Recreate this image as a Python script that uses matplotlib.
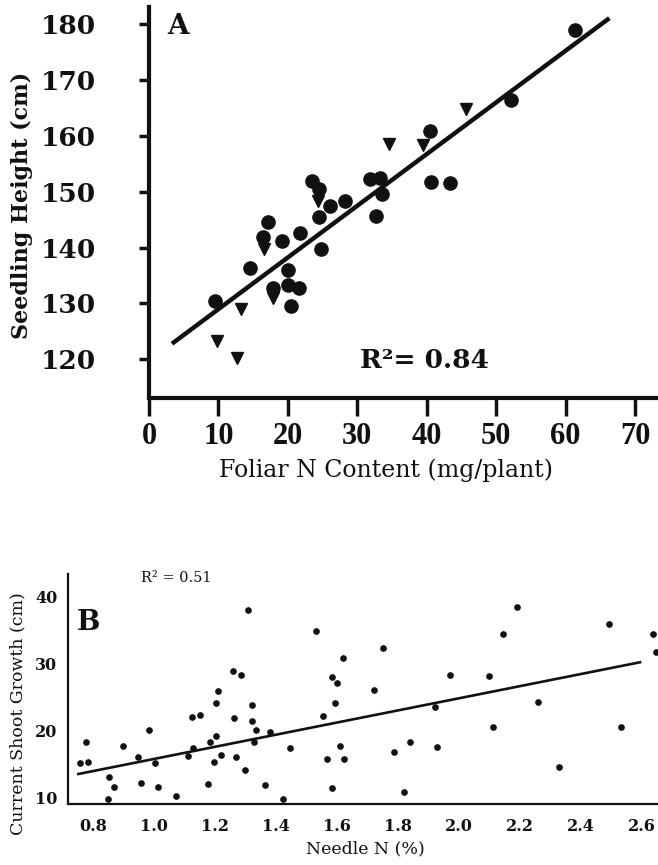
import numpy as np
import matplotlib.pyplot as plt

plt.rcParams['font.family'] = ['DejaVu Serif']

# panel A: foliar N content (mg/plant) vs seedling height (cm)
a_circle_x = [23.5, 24.5, 31.8, 33.3, 33.5, 28.2, 61.4, 52.2, 40.4, 40.6, 43.3, 26.1, 32.7,
              24.5, 17.2, 16.4, 19.2, 21.7, 24.7, 14.6, 20.0, 17.8, 20.0, 21.6, 20.5, 9.5]
a_circle_y = [151.9, 150.4, 152.3, 152.4, 149.5, 148.3, 178.8, 166.3, 160.9, 151.8, 151.5, 147.4, 145.7,
              145.4, 144.5, 141.8, 141.2, 142.6, 139.7, 136.4, 136.0, 132.7, 133.3, 132.7, 129.6, 130.4]
a_tri_x = [34.5, 45.7, 39.4, 24.4, 16.6, 17.9, 13.2, 9.8, 12.7]
a_tri_y = [158.5, 164.7, 158.4, 148.4, 139.7, 130.9, 129.1, 123.3, 120.3]
a_fit = (119.75, 0.924)       # intercept, slope
a_fit_range = (3.3, 66.3)
a_xticks = [0, 10, 20, 30, 40, 50, 60, 70]
a_yticks = [120, 130, 140, 150, 160, 170, 180]

# panel B: needle N (%) vs current shoot growth (cm)
b_x = [0.757, 0.776, 0.783, 0.852, 0.870, 0.850, 0.899, 0.947, 0.957, 0.985, 1.002, 1.014,
       1.072, 1.112, 1.127, 1.126, 1.151, 1.177, 1.183, 1.202, 1.197, 1.221, 1.203, 1.209,
       1.259, 1.286, 1.307, 1.261, 1.270, 1.297, 1.321, 1.321, 1.333, 1.329, 1.365, 1.380,
       1.424, 1.446, 1.530, 1.553, 1.566, 1.585, 1.584, 1.600, 1.592, 1.608, 1.620, 1.623,
       1.722, 1.750, 1.785, 1.839, 1.821, 1.922, 1.926, 1.970, 2.099, 2.111, 2.143, 2.190,
       2.258, 2.327, 2.492, 2.530, 2.637, 2.645]
b_y = [15.2, 18.3, 15.4, 13.1, 11.7, 9.8, 17.7, 16.1, 12.2, 20.2, 15.2, 11.6,
       10.3, 16.2, 17.5, 22.0, 22.4, 12.1, 18.4, 19.2, 15.4, 16.4, 24.1, 26.0,
       29.0, 28.3, 38.1, 21.9, 16.1, 14.2, 23.9, 21.5, 20.1, 18.3, 11.9, 19.9,
       9.8, 17.5, 34.9, 22.2, 15.8, 11.5, 28.1, 27.2, 24.2, 17.8, 30.9, 15.8,
       26.1, 32.3, 16.9, 18.3, 10.9, 23.5, 17.6, 28.4, 28.2, 20.6, 34.5, 38.5,
       24.3, 14.6, 35.9, 20.6, 34.5, 31.8]
b_fit = (6.77, 9.05)
b_fit_range = (0.752, 2.593)
b_xticks = [0.8, 1.0, 1.2, 1.4, 1.6, 1.8, 2.0, 2.2, 2.4, 2.6]
b_yticks = [10, 20, 30, 40]

W, H = 658, 865
fig = plt.figure(figsize=(W / 100, H / 100), dpi=100)

# ---- panel A
ax = fig.add_axes([149 / W, 1 - 398 / H, 509 / W, 391 / H])
ax.plot(a_circle_x, a_circle_y, 'o', color='#111111', ms=9.5, clip_on=False)
ax.plot(a_tri_x, a_tri_y, 'v', color='#111111', ms=9, clip_on=False)
xs = np.array(a_fit_range)
ax.plot(xs, a_fit[0] + a_fit[1] * xs, color='#111111', lw=3.2, solid_capstyle='butt')
ax.set_xlim(0, 73.3)
ax.set_ylim(113.1, 183)
ax.spines[['top', 'right']].set_visible(False)
for s in ('left', 'bottom'):
    ax.spines[s].set_linewidth(3)
    ax.spines[s].set_color('#111111')
ax.set_xticks(a_xticks)
ax.set_yticks(a_yticks)
ax.tick_params(axis='y', direction='out', length=7, width=2.5, pad=31, colors='#111111')
ax.tick_params(axis='x', direction='out', length=13, width=2.5, pad=4, colors='#111111')
for lab in ax.get_yticklabels():
    lab.set_fontfamily('DejaVu Serif')
    lab.set_fontweight('bold')
    lab.set_fontsize(19)
for lab in ax.get_xticklabels():
    lab.set_fontfamily('Liberation Serif')
    lab.set_fontweight('bold')
    lab.set_fontsize(22)
ax.text(0.035, 0.95, 'A', transform=ax.transAxes, fontsize=20, fontweight='bold',
        ha='left', va='center', color='#111111')
ax.text(0.415, 0.097, 'R²= 0.84', transform=ax.transAxes, fontsize=19, fontweight='bold',
        ha='left', va='center', color='#111111')
fig.text(22 / W, 1 - 205 / H, 'Seedling Height (cm)', rotation=90, fontsize=16,
         fontweight='bold', ha='center', va='center', color='#111111')
fig.text(386 / W, 1 - 470 / H, 'Foliar N Content (mg/plant)', fontsize=17,
         ha='center', va='center', color='#111111')

# ---- panel B
bx = fig.add_axes([68.3 / W, 1 - 804 / H, (W - 68.3) / W, 230 / H])
bx.plot(b_x, b_y, 'o', color='#111111', ms=3.8, clip_on=False)
xs = np.array(b_fit_range)
bx.plot(xs, b_fit[0] + b_fit[1] * xs, color='#111111', lw=1.9)
bx.set_xlim(0.719, 2.652)
bx.set_ylim(9.1, 43.4)
bx.spines[['top', 'right']].set_visible(False)
for s in ('left', 'bottom'):
    bx.spines[s].set_linewidth(1.6)
    bx.spines[s].set_color('#111111')
bx.set_xticks(b_xticks)
bx.set_xticklabels([f'{v:.1f}' for v in b_xticks])
bx.set_yticks(b_yticks)
bx.tick_params(length=0, colors='#111111')
bx.tick_params(axis='x', pad=10)
bx.tick_params(axis='y', pad=8)
for lab in bx.get_xticklabels() + bx.get_yticklabels():
    lab.set_fontweight('bold')
    lab.set_fontsize(11.5)
bx.text(0.014, 0.787, 'B', transform=bx.transAxes, fontsize=20, fontweight='bold',
        ha='left', va='center', color='#111111')
bx.text(0.124, 0.983, 'R² = 0.51', transform=bx.transAxes, fontsize=10.5,
        ha='left', va='center', color='#111111')
fig.text(17.5 / W, 1 - 714 / H, 'Current Shoot Growth (cm)', rotation=90, fontsize=12.5,
         ha='center', va='center', color='#111111')
fig.text(365 / W, 1 - 849 / H, 'Needle N (%)', fontsize=12.5,
         ha='center', va='center', color='#111111')

fig.savefig('out.png', dpi=100, facecolor='white')
